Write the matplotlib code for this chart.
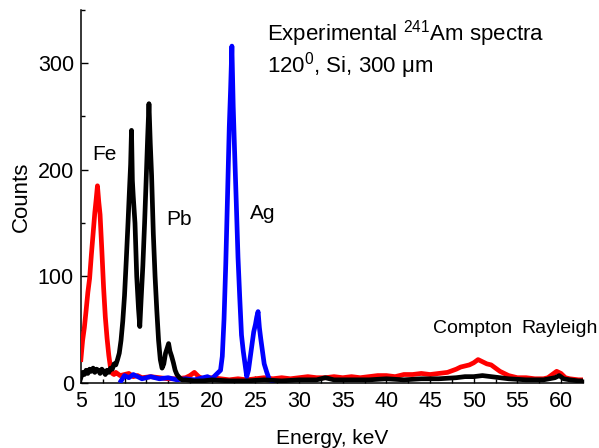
import matplotlib
matplotlib.use("Agg")
import matplotlib.pyplot as plt
from matplotlib.ticker import MultipleLocator

plt.rcParams['font.family'] = ['Liberation Sans', 'DejaVu Sans']
plt.rcParams['mathtext.fontset'] = 'custom'
plt.rcParams['mathtext.rm'] = 'Liberation Sans'
plt.rcParams['mathtext.it'] = 'Liberation Sans:italic'

# Fe target (red)
fe_energy = [5.0, 5.2, 5.4, 5.6, 5.8, 6.0, 6.2, 6.4, 6.6, 6.75, 6.9, 7.05, 7.2, 7.4,
             7.6, 7.8, 8.0, 8.2, 8.4, 8.6, 8.8, 9.0, 9.5, 10, 10.5, 11, 11.5, 12, 13,
             14, 15, 16, 17, 17.5, 18, 18.5, 19, 20, 21, 22, 23, 24, 25, 26, 27, 28,
             29, 30, 31, 32, 33, 34, 35, 36, 37, 38, 39, 40, 41, 42, 43, 44, 45, 46,
             47, 48, 48.5, 49, 49.5, 50, 50.5, 51, 51.5, 52, 52.5, 53, 53.5, 54, 55,
             56, 57, 58, 58.5, 59, 59.5, 60, 60.5, 61, 62, 62.5]
fe_counts = [22, 40, 52, 68, 85, 98, 120, 140, 160, 172, 185, 170, 158, 125,
             90, 62, 42, 26, 14, 9, 8, 10, 7, 8, 9, 6, 7, 5, 6,
             5, 4, 4, 5, 7, 10, 6, 4, 5, 4, 3, 4, 3, 4, 5, 4, 5,
             4, 5, 6, 5, 5, 6, 5, 6, 5, 6, 7, 7, 6, 8, 8, 9, 8, 9,
             10, 13, 15, 16, 17, 19, 22, 20, 18, 17, 14, 11, 9, 7, 5,
             5, 4, 4, 5, 8, 11, 9, 5, 4, 3, 3]

# Ag target (blue)
ag_energy = [9.6, 10, 10.5, 11, 11.5, 12, 12.5, 13, 14, 15, 16, 17, 18, 19, 19.5,
             20, 20.5, 21.0, 21.2, 21.4, 21.6, 21.8, 22.0, 22.15, 22.3, 22.45, 22.6,
             22.8, 23.0, 23.2, 23.4, 23.6, 23.8, 24.0, 24.2, 24.5, 24.8, 25.0, 25.15,
             25.3, 25.45, 25.6, 25.8, 26.0, 26.3, 26.6, 27]
ag_counts = [2, 7, 5, 8, 6, 4, 5, 6, 4, 5, 3, 4, 3, 5, 6,
             4, 8, 12, 25, 60, 112, 175, 240, 275, 316, 260, 220,
             170, 118, 80, 45, 30, 18, 6, 12, 30, 48, 55, 62,
             67, 52, 42, 30, 18, 10, 3, 2]

# Pb target (black)
pb_energy = [5.0, 5.2, 5.4, 5.6, 5.8, 6.0, 6.2, 6.4, 6.6, 6.8, 7.0, 7.2, 7.4, 7.6,
             7.8, 8.0, 8.2, 8.4, 8.6, 8.8, 9.0, 9.2, 9.4, 9.6, 9.8, 10.0, 10.2, 10.4,
             10.55, 10.7, 10.8, 10.9, 11.0, 11.2, 11.4, 11.6, 11.75, 11.9, 12.1, 12.3,
             12.5, 12.65, 12.8, 12.95, 13.1, 13.3, 13.5, 13.7, 13.9, 14.1, 14.3, 14.5,
             14.7, 14.9, 15.05, 15.2, 15.4, 15.6, 15.8, 16.0, 16.3, 16.6, 17, 18, 19,
             20, 22, 24, 26, 28, 30, 32, 33, 34, 36, 38, 40, 42, 44, 46, 48, 49, 50,
             51, 52, 53, 54, 56, 58, 59.3, 59.8, 60.3, 61, 62, 62.5]
pb_counts = [5, 10, 8, 12, 9, 13, 11, 14, 10, 13, 12, 9, 13, 11,
             8, 12, 10, 14, 13, 18, 17, 22, 28, 40, 58, 82, 115, 150,
             178, 205, 237, 190, 175, 150, 100, 70, 53, 78, 110, 150,
             195, 230, 262, 225, 195, 140, 100, 68, 40, 22, 14, 18,
             28, 33, 37, 30, 25, 19, 12, 8, 5, 3, 3, 2, 2,
             3, 2, 2, 3, 2, 3, 3, 5, 3, 3, 3, 4, 3, 4, 4, 5, 6, 6,
             7, 6, 5, 4, 3, 3, 5, 7, 4, 3, 2, 2]

fig = plt.figure(figsize=(5.99, 4.48), dpi=100)
ax = fig.add_axes([0.135, 0.145, 0.838, 0.833])

ax.plot(fe_energy, fe_counts, color='#ff0000', lw=3.4, zorder=3)
ax.plot(ag_energy, ag_counts, color='#0000ff', lw=3.4, zorder=4)
ax.plot(pb_energy, pb_counts, color='#000000', lw=3.4, zorder=5)

ax.set_xlim(5, 62.5)
ax.set_ylim(0, 350)
ax.xaxis.set_major_locator(MultipleLocator(5))
ax.xaxis.set_minor_locator(MultipleLocator(2.5))
ax.yaxis.set_major_locator(MultipleLocator(100))
ax.yaxis.set_minor_locator(MultipleLocator(50))

ax.spines['top'].set_visible(False)
ax.spines['right'].set_visible(False)
for s in ['left', 'bottom']:
    ax.spines[s].set_linewidth(1.1)
ax.tick_params(which='both', direction='in', labelsize=15.5, width=1.0)
ax.tick_params(which='major', length=5)
ax.tick_params(which='minor', length=3)
ax.tick_params(axis='y', pad=5)
ax.tick_params(axis='x', pad=6)

ax.set_xlabel('Energy, keV', fontsize=15, labelpad=12)
ax.set_ylabel('Counts', fontsize=16, labelpad=4)

ax.text(26.3, 328, 'Experimental $^{241}$Am spectra', fontsize=16, va='center')
ax.text(26.3, 298, '120$^{0}$, Si, 300 μm', fontsize=16, va='center')
ax.text(6.3, 214, 'Fe', fontsize=15, va='center')
ax.text(14.8, 153, 'Pb', fontsize=15, va='center')
ax.text(24.4, 159, 'Ag', fontsize=15, va='center')
ax.text(45.3, 51.5, 'Compton', fontsize=14, va='center')
ax.text(55.5, 51.5, 'Rayleigh', fontsize=14, va='center')

fig.savefig('out.png', dpi=100)
